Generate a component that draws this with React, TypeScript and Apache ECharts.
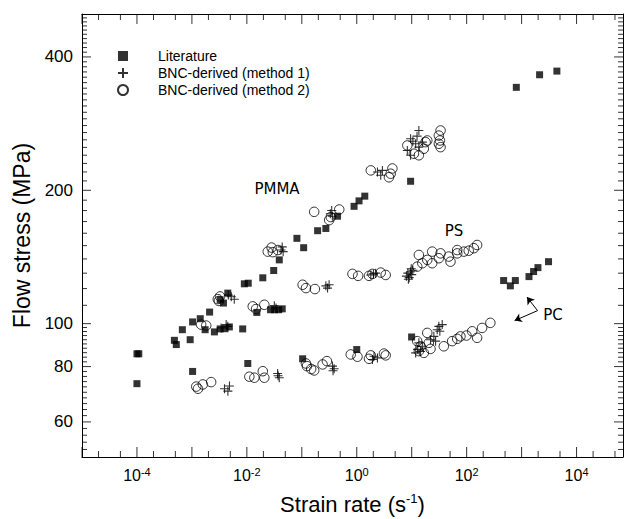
import React, { useEffect, useRef } from 'react';
import * as echarts from 'echarts';

const literature: number[][] = [
  [1e-4, 73.2], [1.0e-4, 85.5], [1.08e-4, 85.5], [4.8e-4, 91.7], [5.2e-4, 89.7], [6.7e-4, 96.9],
  [9.3e-4, 92], [1.03e-3, 78], [1.03e-3, 100.9], [1.42e-3, 102.6], [1.74e-3, 96.9], [2.1e-3, 106.2],
  [2.57e-3, 95.8], [3.27e-3, 97.3], [3.27e-3, 113.2], [3.75e-3, 111.3], [4.0e-3, 97.4], [4.5e-3, 117.2],
  [4.8e-3, 98.3], [8.4e-3, 97.3], [9.0e-3, 123.0], [1.06e-2, 123.4], [1.04e-2, 81.3], [1.52e-2, 106],
  [1.95e-2, 126.9], [3.08e-2, 131.8], [3.89e-2, 139.3], [2.7e-2, 107.5], [3.2e-2, 107.5], [3.8e-2, 107.5],
  [4.4e-2, 108], [0.1035, 83.3], [0.0815, 155.8], [0.108, 148.4], [0.194, 162.1], [0.274, 164],
  [0.447, 174.8], [0.893, 184], [1.1, 189.3], [1.4, 194], [9.55, 209.6], [471, 125.1], [624, 121.7],
  [769, 125.1], [1362, 127.7], [1652, 131.1], [1983, 133.8], [3090, 138], [801, 341.5], [2125, 364.6],
  [4385, 371.6], [1.0, 87.4], [9.96, 93.3],
];

const method1: number[][] = [
  [4.6e-3, 116], [5.2e-3, 115], [5.9e-3, 113.5], [0.0418, 146.6], [0.0458, 145.4], [0.044, 149],
  [0.33, 177], [0.36, 174.8], [0.35, 180], [2.38, 220], [2.73, 216.3], [2.93, 221.8],
  [9.55, 261.4], [11.8, 254.7], [13.5, 272.9], [8.32, 246], [9.55, 239.9], [15.6, 256.9], [13.5, 250.3],
  [12.5, 265], [10.5, 258],
  [0.0316, 109.8], [0.0339, 108.5], [3.4e-3, 97.8], [4.5e-3, 98.6], [4.2e-3, 99.5],
  [3.92e-3, 71.3], [4.83e-3, 72.3], [4.52e-3, 70.4], [0.0363, 77.2], [0.0389, 75.5], [0.037, 76.3],
  [0.362, 80.2], [0.388, 79.1], [0.37, 78.3], [2.06, 84.4], [2.38, 83.7], [1.93, 83.0],
  [11.8, 85.9], [13.5, 90.5], [15.6, 88.9], [25.3, 93.6], [29.1, 96.9], [31.2, 98.6], [35.9, 99.5],
  [32.5, 96.1], [27.2, 91.3], [12.8, 87.5], [22, 92], [14.5, 86.5],
  [0.274, 121.7], [0.314, 122.4], [0.294, 120.3], [1.8, 128.8], [2.01, 129.5], [2.21, 130],
  [8.0, 128], [8.5, 130], [9.0, 127], [9.5, 131], [10.0, 129], [10.5, 132], [8.7, 126], [9.8, 133],
];

const method2: number[][] = [
  [2.96e-3, 113.6], [3.25e-3, 115.2], [3.1e-3, 112.5], [0.024, 145.4], [0.0297, 145], [0.0365, 146.6],
  [0.0282, 148.5], [0.168, 178.8], [0.315, 171.3], [0.337, 174], [0.48, 181], [1.8, 221.8], [3.86, 214],
  [4.45, 224], [4.14, 218], [8.32, 252.5], [10.97, 241.9], [13.5, 239.9], [17.9, 256.9], [16.6, 248.2],
  [19.2, 259.1], [33.5, 272.9], [31.2, 265.8], [32.6, 259.1], [31.2, 254.7], [33.5, 250.3],
  [0.0128, 109.4], [0.0147, 107.9], [0.0208, 110.3], [1.47e-3, 99.5], [1.82e-3, 99],
  [1.29e-3, 71.3], [1.58e-3, 72.9], [2.24e-3, 73.8], [1.2e-3, 72.1], [0.0111, 75.9], [0.0137, 75.5],
  [0.0195, 78.1], [0.0208, 75.5], [0.119, 81.3], [0.124, 80.2], [0.148, 79.0], [0.168, 78.4],
  [0.239, 80.9], [0.286, 82.3], [0.778, 85.2], [1.03, 84.2], [1.67, 83.3], [1.8, 84.8], [3.13, 85.6],
  [3.36, 84.8], [12.6, 91.3], [13.5, 86.7], [19.2, 95.3], [22.0, 87.7], [16.6, 85.9], [20.5, 90.5],
  [14.5, 88.9], [38.4, 88.9], [54.5, 91.3], [67.3, 92.4], [77.1, 93.6], [99.2, 94.0], [126, 96.1],
  [155, 92.9], [191, 97.8], [270, 100.4],
  [0.1035, 122.4], [0.119, 120.3], [0.173, 119.7], [0.836, 129.5], [1.06, 128.2], [1.67, 128.2],
  [1.93, 129.5], [2.73, 130.4], [3.36, 128.8], [13.5, 142.9], [15.6, 136.9], [12.6, 134.5], [19.2, 139.3],
  [23.6, 145.4], [23.6, 136.9], [33.5, 144.1], [31.2, 140.5], [47.3, 141.7], [50.8, 138], [67.3, 144.1],
  [67.3, 146.6], [88.6, 145.4], [109, 146.1], [135, 148], [155, 150.5],
];

const seriesNames = ['Literature', 'BNC-derived (method 1)', 'BNC-derived (method 2)'];
const X_MIN = 1e-5;
const X_MAX = 7e4;
const Y_MIN = 50;
const Y_MAX = 500;
const xDecadeTicks = [1e-5, 1e-4, 1e-3, 1e-2, 1e-1, 1, 10, 100, 1e3, 1e4];
const xMinorTicks = [2e-5, 5e-5, 2e-4, 5e-4, 2e-3, 5e-3, 0.02, 0.05, 0.2, 0.5, 2, 5, 20, 50, 200, 500, 2000, 5000, 2e4, 5e4];
const xTickLabels = [1e-4, 1e-2, 1, 100, 1e4];
const yTickLabels = [60, 80, 100, 200, 400];
const yMinorTicks = [
  52, 54, 56, 58, 62, 64, 66, 68, 70, 72, 74, 76, 78, 82, 84, 86, 88, 90, 92, 94, 96, 98,
  110, 120, 130, 140, 150, 160, 170, 180, 190,
  210, 220, 230, 240, 250, 260, 270, 280, 290, 300, 310, 320, 330, 340, 350, 360, 370, 380, 390,
  410, 420, 430, 440, 450, 460, 470, 480, 490,
];
const pcArrows = [
  [[1950, 107], [1253, 114.8]],
  [[1950, 107], [746, 101.6]],
];

const FONT = 'Liberation Sans, Arial, sans-serif';

function tickSeries(data: number[][], size: number[], offset: number[]) {
  return {
    type: 'scatter', xAxisIndex: 0, yAxisIndex: 0, data, symbol: 'rect', symbolSize: size,
    symbolOffset: offset, clip: false, silent: true, z: 1,
    itemStyle: { color: '#000' }, emphasis: { disabled: true }, tooltip: { show: false },
  };
}

export default function App() {
  const ref = useRef<HTMLDivElement>(null);
  useEffect(() => {
    document.body.style.margin = '0';
    if (!ref.current) return;
    const chart = echarts.init(ref.current, null, { renderer: 'svg', width: 627, height: 519 });
    const axisLine = { show: true, lineStyle: { color: '#000', width: 1 } };
    const xBase = { type: 'log', logBase: 10, min: X_MIN, max: X_MAX, splitLine: { show: false } };
    const yBase = { type: 'log', logBase: 10, min: Y_MIN, max: Y_MAX, splitLine: { show: false } };
    chart.setOption({
      animation: false,
      backgroundColor: '#fff',
      grid: { left: 82, top: 14, width: 541, height: 443, containLabel: false, outerBoundsMode: 'none' },
      xAxis: [
        {
          ...xBase, position: 'bottom', axisLine,
          axisTick: { show: false },
          axisLabel: {
            show: true, margin: 9, customValues: xTickLabels,
            formatter: (v: number) => '{b|10}{s|' + Math.round(Math.log10(v)) + '}',
            rich: {
              b: { fontSize: 16, fontFamily: FONT, color: '#000' },
              s: { fontSize: 11, fontFamily: FONT, color: '#000', verticalAlign: 'top', padding: [0, 0, 8, 0] },
            },
          },
          name: '{a|Strain rate (s}{s|-1}{a|)}', nameLocation: 'middle', nameGap: 35,
          nameTextStyle: {
            rich: {
              a: { fontSize: 22, fontFamily: FONT, color: '#000', lineHeight: 24 },
              s: { fontSize: 13, fontFamily: FONT, color: '#000', padding: [0, 0, 11, 0] },
            },
          },
        },
        { ...xBase, position: 'top', axisLine, axisTick: { show: false }, axisLabel: { show: false } },
      ],
      yAxis: [
        {
          ...yBase, position: 'left', axisLine,
          axisTick: { show: false },
          axisLabel: {
            show: true, margin: 9, customValues: yTickLabels, fontSize: 17, fontFamily: FONT, color: '#000',
            formatter: (v: number) => String(Math.round(v)),
          },
          name: 'Flow stress (MPa)', nameLocation: 'middle', nameGap: 47,
          nameTextStyle: { fontSize: 23, fontFamily: FONT, color: '#000' },
        },
        { ...yBase, position: 'right', axisLine, axisTick: { show: false }, axisLabel: { show: false } },
      ],
      legend: {
        show: true, orient: 'vertical', left: 112, top: 44, itemWidth: 10, itemHeight: 10, itemGap: 3,
        data: seriesNames,
        textStyle: { fontSize: 14, fontFamily: FONT, color: '#000', padding: [0, 0, 0, 25] },
      },
      graphic: [
        { type: 'text', x: 277, y: 189, style: { text: 'PMMA', fontSize: 15, fontFamily: 'DejaVu Sans', fill: '#000', align: 'center', verticalAlign: 'middle' } },
        { type: 'text', x: 454, y: 231, style: { text: 'PS', fontSize: 15, fontFamily: 'DejaVu Sans', fill: '#000', align: 'center', verticalAlign: 'middle' } },
        { type: 'text', x: 553, y: 315, style: { text: 'PC', fontSize: 15, fontFamily: 'DejaVu Sans', fill: '#000', align: 'center', verticalAlign: 'middle' } },
      ],
      series: [
        {
          name: seriesNames[0], type: 'scatter', xAxisIndex: 0, yAxisIndex: 0, data: literature,
          symbol: 'rect', symbolSize: 7, itemStyle: { color: '#000' }, silent: true, z: 3,
          markLine: {
            silent: true, symbol: ['none', 'arrow'], symbolSize: 7,
            lineStyle: { color: '#000', width: 1, type: 'solid' }, label: { show: false },
            data: pcArrows.map((a) => [{ coord: a[0] }, { coord: a[1] }]),
          },
        },
        {
          name: seriesNames[1], type: 'scatter', xAxisIndex: 0, yAxisIndex: 0, data: method1,
          symbol: 'path://M0,5L10,5M5,0L5,10', symbolSize: 9, silent: true, z: 3,
          itemStyle: { color: 'rgba(0,0,0,0)', borderColor: '#000', borderWidth: 1.1 },
        },
        {
          name: seriesNames[2], type: 'scatter', xAxisIndex: 0, yAxisIndex: 0, data: method2,
          symbol: 'circle', symbolSize: 9.5, silent: true, z: 3,
          itemStyle: { color: 'rgba(0,0,0,0)', borderColor: '#000', borderWidth: 1 },
        },
        tickSeries(xDecadeTicks.map((v) => [v, Y_MIN]), [1, 10], [0, -5]),
        tickSeries(xMinorTicks.map((v) => [v, Y_MIN]), [1, 6], [0, -3]),
        tickSeries(xDecadeTicks.map((v) => [v, Y_MAX]), [1, 10], [0, 5]),
        tickSeries(xMinorTicks.map((v) => [v, Y_MAX]), [1, 6], [0, 3]),
        tickSeries(yTickLabels.map((v) => [X_MIN, v]), [9, 1], [4.5, 0]),
        tickSeries(yMinorTicks.map((v) => [X_MIN, v]), [5, 1], [2.5, 0]),
        tickSeries(yTickLabels.map((v) => [X_MAX, v]), [9, 1], [-4.5, 0]),
        tickSeries(yMinorTicks.map((v) => [X_MAX, v]), [5, 1], [-2.5, 0]),
      ],
    });
    return () => chart.dispose();
  }, []);
  return <div ref={ref} style={{ width: 627, height: 519 }} />;
}
